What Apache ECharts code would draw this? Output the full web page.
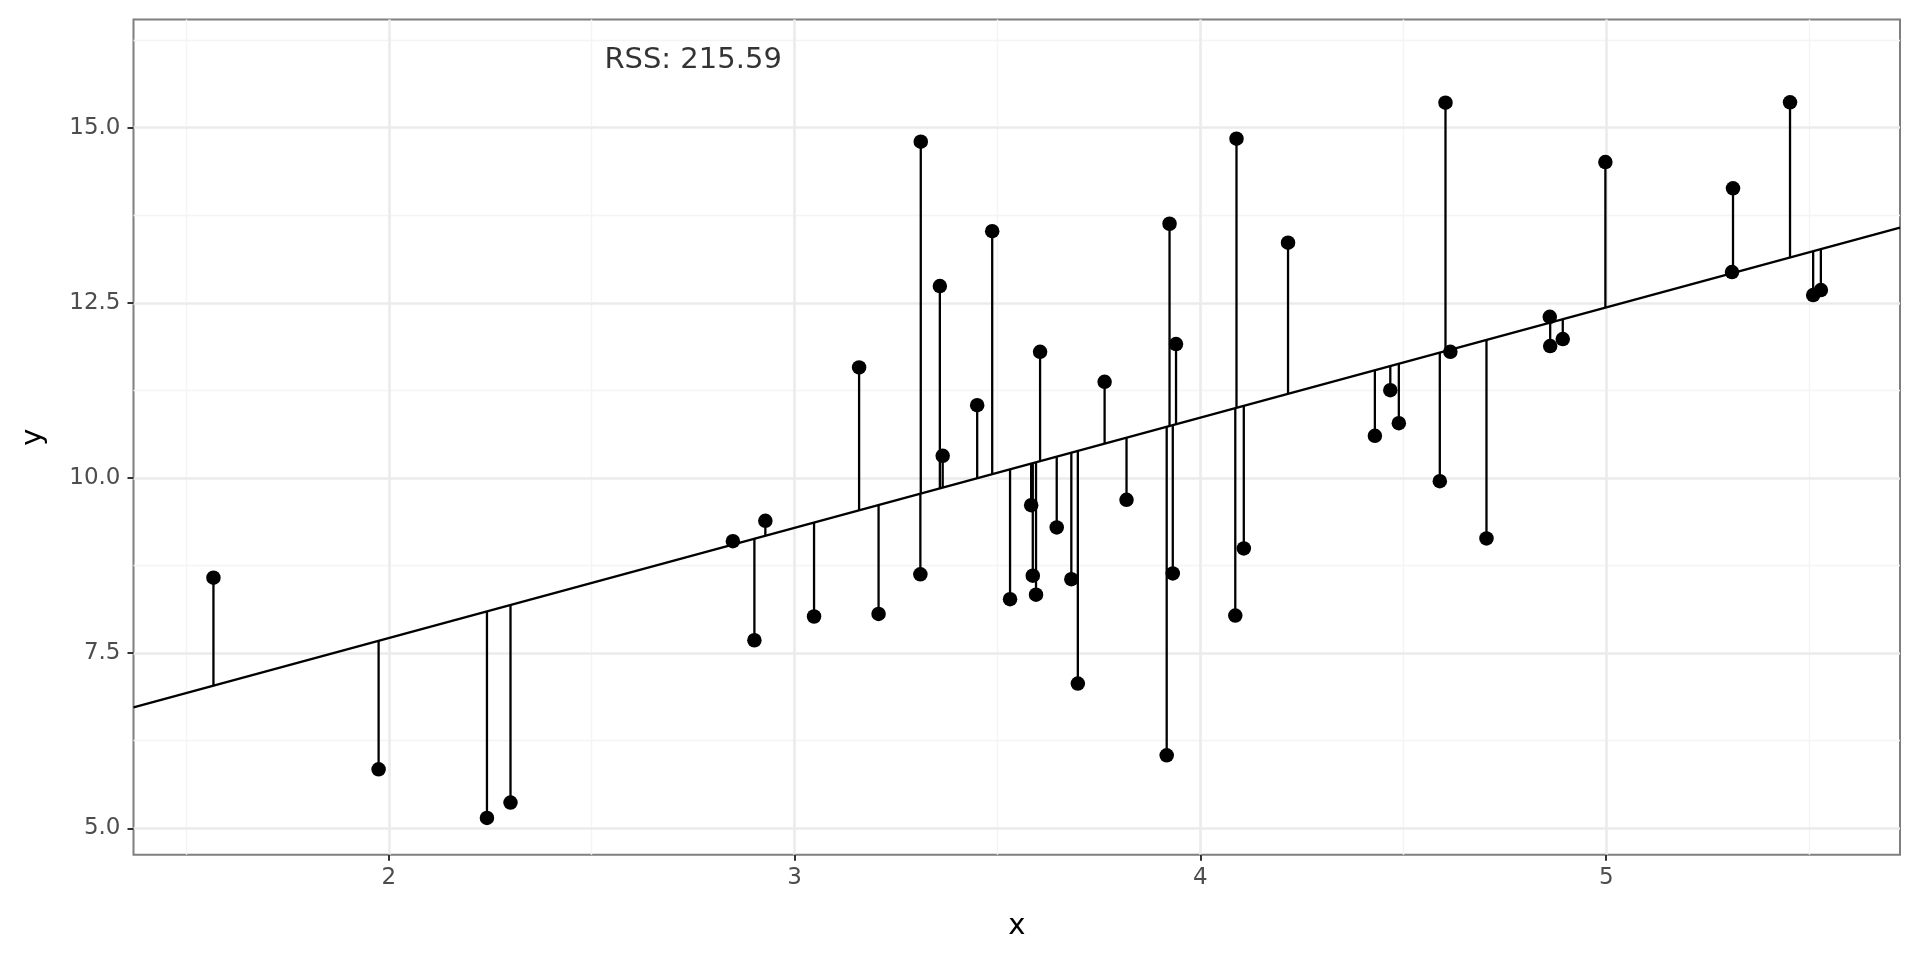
<!DOCTYPE html>
<html>
<head>
<meta charset="utf-8">
<script src="https://cdn.jsdelivr.net/npm/echarts@6/dist/echarts.min.js"></script>
<style>
html,body{margin:0;padding:0;background:#ffffff;}
#chart{width:1920px;height:960px;}
</style>
</head>
<body>
<div id="chart"></div>
<script>
// ---- data ----
const xValues = [1.568, 1.975, 2.242, 2.300, 2.848, 2.901, 2.928, 3.048, 3.159, 3.207,
                 3.310, 3.311, 3.358, 3.365, 3.450, 3.487, 3.531, 3.583, 3.587, 3.595,
                 3.605, 3.646, 3.682, 3.698, 3.764, 3.818, 3.917, 3.924, 3.932, 3.940,
                 4.089, 4.086, 4.107, 4.216, 4.430, 4.468, 4.489, 4.590, 4.604, 4.616,
                 4.705, 4.861, 4.862, 4.893, 4.998, 5.3125, 5.310, 5.453, 5.510, 5.529];
const yValues = [8.577, 5.842, 5.147, 5.367, 9.098, 7.684, 9.388, 8.023, 11.578, 8.060,
                 8.625, 14.800, 12.740, 10.316, 11.039, 13.522, 8.270, 9.612, 8.606, 8.334,
                 11.801, 9.294, 8.556, 7.066, 11.373, 9.689, 6.042, 13.629, 8.637, 11.911,
                 14.843, 8.037, 8.994, 13.358, 10.602, 11.254, 10.783, 9.955, 15.357, 11.801,
                 9.137, 12.301, 11.883, 11.983, 14.510, 14.135, 12.940, 15.362, 12.611, 12.682];
const lineIntercept = 4.569;
const lineSlope = 1.5733;
const xTicks = [2, 3, 4, 5];
const xMinorTicks = [1.5, 2.5, 3.5, 4.5, 5.5];
const yTicks = [5, 7.5, 10, 12.5, 15];
const yMinorTicks = [6.25, 8.75, 11.25, 13.75, 16.25];
const annotX = [2.75];
const annotY = [16];
const annotText = ['RSS: 215.59'];

// ---- layout ----
const X_MIN = 1.371, X_MAX = 5.724;
const Y_MIN = 4.623, Y_MAX = 16.543;
const FONT = 'DejaVu Sans';

function fit(x) { return lineIntercept + lineSlope * x; }

const points = xValues.map((x, i) => [x, yValues[i]]);
const residuals = xValues.map((x, i) => [x, yValues[i], fit(x)]);

const chart = echarts.init(document.getElementById('chart'), null, {renderer: 'canvas'});

const majorGrid = {show: true, lineStyle: {color: '#EBEBEB', width: 2.6}};
const minorGrid = {show: true, lineStyle: {color: '#F4F4F4', width: 1.4}};

chart.setOption({
  animation: false,
  backgroundColor: '#ffffff',
  grid: {
    left: 133.5, right: 20, top: 19.6, bottom: 105.3,
    show: true, borderColor: '#7F7F7F', borderWidth: 2,
    backgroundColor: 'transparent',
    containLabel: false, outerBoundsMode: 'none'
  },
  xAxis: [
    {
      type: 'value', min: X_MIN, max: X_MAX, position: 'bottom', z: 2,
      axisLine: {show: false},
      axisTick: {show: true, customValues: xTicks, length: 6, lineStyle: {color: '#333333', width: 2}},
      axisLabel: {customValues: xTicks, color: '#4D4D4D', fontSize: 23, fontFamily: FONT, margin: 12,
                  formatter: v => String(v)},
      splitLine: majorGrid,
      name: 'x', nameLocation: 'middle', nameGap: 57,
      nameTextStyle: {color: '#000000', fontSize: 29, fontFamily: FONT}
    },
    {
      type: 'value', min: X_MIN, max: X_MAX, position: 'top', z: 1,
      axisLine: {show: false},
      axisTick: {show: false, customValues: xMinorTicks},
      axisLabel: {show: false, customValues: xMinorTicks},
      splitLine: minorGrid
    }
  ],
  yAxis: [
    {
      type: 'value', min: Y_MIN, max: Y_MAX, position: 'left', z: 2,
      axisLine: {show: false},
      axisTick: {show: true, customValues: yTicks, length: 6, lineStyle: {color: '#333333', width: 2}},
      axisLabel: {customValues: yTicks, color: '#4D4D4D', fontSize: 23, fontFamily: FONT, margin: 13,
                  formatter: v => v.toFixed(1)},
      splitLine: majorGrid,
      name: 'y', nameLocation: 'middle', nameGap: 86, nameRotate: 90,
      nameTextStyle: {color: '#000000', fontSize: 29, fontFamily: FONT}
    },
    {
      type: 'value', min: Y_MIN, max: Y_MAX, position: 'right', z: 1,
      axisLine: {show: false},
      axisTick: {show: false, customValues: yMinorTicks},
      axisLabel: {show: false, customValues: yMinorTicks},
      splitLine: minorGrid
    }
  ],
  series: [
    {
      type: 'line', xAxisIndex: 0, yAxisIndex: 0, silent: true,
      data: [[X_MIN, fit(X_MIN)], [X_MAX, fit(X_MAX)]],
      showSymbol: false, symbol: 'none',
      lineStyle: {color: '#000000', width: 2.3}, z: 3
    },
    {
      type: 'custom', xAxisIndex: 0, yAxisIndex: 0, silent: true,
      data: residuals, encode: {x: 0, y: [1, 2]}, z: 4,
      renderItem: function (params, api) {
        const p1 = api.coord([api.value(0), api.value(1)]);
        const p2 = api.coord([api.value(0), api.value(2)]);
        return {type: 'line', shape: {x1: p1[0], y1: p1[1], x2: p2[0], y2: p2[1]},
                style: {stroke: '#000000', lineWidth: 2.3}};
      }
    },
    {
      type: 'scatter', xAxisIndex: 0, yAxisIndex: 0, silent: true,
      data: points, symbol: 'circle', symbolSize: 14.5,
      itemStyle: {color: '#000000', opacity: 1}, z: 5
    },
    {
      type: 'scatter', xAxisIndex: 0, yAxisIndex: 0, silent: true,
      data: annotX.map((x, i) => ({value: [x, annotY[i]], name: annotText[i]})),
      symbolSize: 0, z: 6,
      label: {show: true, position: 'inside', offset: [0, 2.5], formatter: p => p.name,
              color: '#000000', fontSize: 29, fontFamily: FONT}
    }
  ]
});
</script>
</body>
</html>
